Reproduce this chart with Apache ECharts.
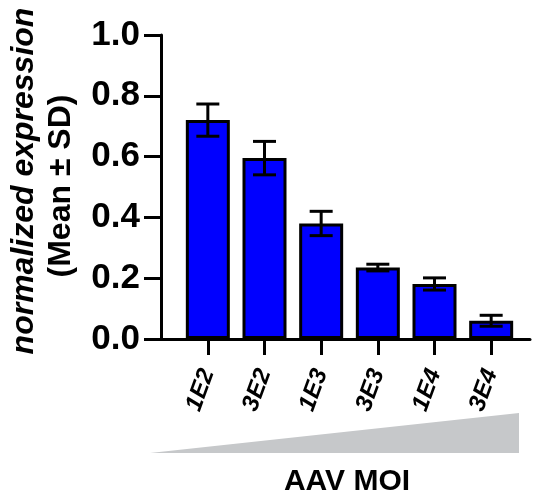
<!DOCTYPE html>
<html>
<head>
<meta charset="utf-8">
<script src="https://cdn.jsdelivr.net/npm/echarts@6/dist/echarts.min.js"></script>
<style>
  html, body { margin: 0; padding: 0; background: #fff; }
  #chart { width: 538px; height: 493px; }
</style>
</head>
<body>
<div id="chart"></div>
<script>
var categories = ['1E2', '3E2', '1E3', '3E3', '1E4', '3E4'];
var means = [0.72, 0.595, 0.38, 0.235, 0.181, 0.06];
var sds = [0.053, 0.055, 0.04, 0.011, 0.02, 0.018];
var yTicks = [0, 0.2, 0.4, 0.6, 0.8, 1.0];

var FONT = '"Liberation Sans", Arial, Helvetica, sans-serif';

var errData = means.map(function (m, i) {
    return [i, m - sds[i], m + sds[i]];
});

var myChart = echarts.init(document.getElementById('chart'), null, {renderer: 'canvas'});

myChart.setOption({
    animation: false,
    backgroundColor: '#fff',
    grid: [
        // axis frame: y axis line + long x axis line
        {left: 161, right: 8, top: 35, bottom: 154},
        // bars
        {left: 179.5, width: 340, top: 35, bottom: 154}
    ],
    xAxis: [
        {
            gridIndex: 0,
            type: 'value',
            min: 0,
            max: 1,
            axisLine: {show: true, lineStyle: {color: '#000', width: 3}},
            axisTick: {show: false},
            axisLabel: {show: false},
            splitLine: {show: false}
        },
        {
            gridIndex: 1,
            type: 'category',
            data: categories,
            axisLine: {show: false},
            axisTick: {
                show: true,
                alignWithLabel: true,
                length: 16,
                lineStyle: {color: '#000', width: 3}
            },
            axisLabel: {
                rotate: 70,
                margin: 31,
                color: '#000',
                fontFamily: FONT,
                fontWeight: 'bold',
                fontStyle: 'italic',
                fontSize: 24
            }
        }
    ],
    yAxis: [
        {
            gridIndex: 0,
            type: 'value',
            min: yTicks[0],
            max: yTicks[yTicks.length - 1],
            interval: 0.2,
            axisLine: {show: true, lineStyle: {color: '#000', width: 3}},
            axisTick: {show: true, length: 17, lineStyle: {color: '#000', width: 3}},
            axisLabel: {
                margin: 21,
                color: '#000',
                fontFamily: FONT,
                fontWeight: 'bold',
                fontSize: 35,
                formatter: function (v) { return v.toFixed(1); }
            },
            splitLine: {show: false}
        },
        {
            gridIndex: 1,
            type: 'value',
            min: 0,
            max: 1,
            show: false
        }
    ],
    series: [
        {
            type: 'bar',
            xAxisIndex: 1,
            yAxisIndex: 1,
            data: means,
            barWidth: 44,
            itemStyle: {
                color: '#0000ff',
                borderColor: '#000',
                borderWidth: 3
            },
            z: 2
        },
        {
            type: 'custom',
            xAxisIndex: 1,
            yAxisIndex: 1,
            data: errData,
            z: 3,
            renderItem: function (params, api) {
                var lo = api.coord([api.value(0), api.value(1)]);
                var hi = api.coord([api.value(0), api.value(2)]);
                var half = 11.5;
                var style = {stroke: '#000', lineWidth: 3, fill: null};
                return {
                    type: 'group',
                    children: [
                        {type: 'line', shape: {x1: hi[0], y1: hi[1], x2: lo[0], y2: lo[1]}, style: style},
                        {type: 'line', shape: {x1: hi[0] - half, y1: hi[1], x2: hi[0] + half, y2: hi[1]}, style: style},
                        {type: 'line', shape: {x1: lo[0] - half, y1: lo[1], x2: lo[0] + half, y2: lo[1]}, style: style}
                    ]
                };
            }
        }
    ],
    graphic: [
        {
            type: 'text',
            x: 24,
            y: 181,
            rotation: Math.PI / 2,
            style: {
                text: 'normalized expression',
                align: 'center',
                verticalAlign: 'middle',
                fill: '#000',
                font: 'italic bold 32px ' + FONT
            }
        },
        {
            type: 'text',
            x: 61,
            y: 186,
            rotation: Math.PI / 2,
            style: {
                text: '(Mean ± SD)',
                align: 'center',
                verticalAlign: 'middle',
                fill: '#000',
                font: 'bold 32px ' + FONT
            }
        },
        {
            type: 'polygon',
            shape: {points: [[150, 453], [519, 413], [519, 453]]},
            style: {fill: '#c6c8ca'}
        },
        {
            type: 'text',
            x: 347,
            y: 482,
            style: {
                text: 'AAV MOI',
                align: 'center',
                verticalAlign: 'middle',
                fill: '#000',
                font: 'bold 30px ' + FONT
            }
        }
    ]
});
</script>
</body>
</html>
